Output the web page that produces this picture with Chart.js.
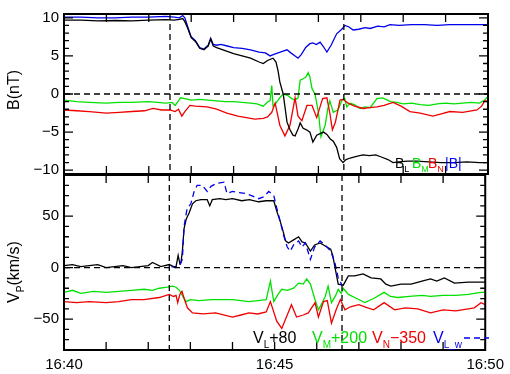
<!DOCTYPE html>
<html lang="en">
<head>
<meta charset="UTF-8">
<title>B and Vp</title>
<script src="https://cdn.jsdelivr.net/npm/chart.js"></script>
<style>
  html, body { margin: 0; padding: 0; background: #fff; }
  #wrap { position: relative; width: 510px; height: 374px; }
  #wrap canvas { position: absolute; left: 0; top: 0; }
</style>
</head>
<body>
<div id="wrap">
  <canvas id="bChart" width="510" height="374"></canvas>
  <canvas id="vChart" width="510" height="374"></canvas>
</div>
<script>
// time is minutes after 16:40
const minuteTicks = [0, 1, 2, 3, 4, 5, 6, 7, 8, 9, 10];
const timeLabels = { 0: '16:40', 5: '16:45', 10: '16:50' };
const markTimes = [2.5, 6.6];

const bMajor = [-10, -5, 0, 5, 10];
const bMinor = [-10, -9, -8, -7, -6, -5, -4, -3, -2, -1, 0, 1, 2, 3, 4, 5, 6, 7, 8, 9, 10];
const vMajor = [-50, 0, 50];
const vMinor = [-80, -70, -60, -50, -40, -30, -20, -10, 0, 10, 20, 30, 40, 50, 60, 70, 80, 90];

// top panel: B components (nT)
const tBT = [0, 0.4, 0.8, 1.2, 1.6, 2.0, 2.4, 2.6, 2.72, 2.8, 2.85, 2.92, 3.0, 3.1, 3.2, 3.3, 3.4, 3.46, 3.52, 3.6,
  3.7, 3.85, 4.0, 4.2, 4.4, 4.6, 4.75, 4.86, 4.95, 5.05, 5.15, 5.26, 5.35, 5.45, 5.52, 5.6, 5.7, 5.8, 5.87, 5.95,
  6.04, 6.12, 6.2, 6.3, 6.43, 6.55, 6.63, 6.72, 6.82, 6.95, 7.1, 7.22, 7.4, 7.55, 7.69, 7.9, 8.2, 8.5, 8.8, 9.1,
  9.4, 9.7, 10];
const bT = [10.1, 10.1, 10.0, 10.0, 10.1, 10.1, 10.2, 10.1, 10.0, 10.3, 10.0, 8.8, 7.5, 7.0, 6.1, 5.9, 6.4, 7.3, 6.5, 6.4,
  6.5, 6.3, 6.1, 6.0, 5.8, 5.5, 5.4, 5.0, 5.2, 5.4, 5.6, 5.8, 5.4, 5.0, 4.7, 5.2, 6.1, 6.6, 6.7, 6.5,
  6.8, 6.2, 5.5, 6.4, 7.9, 8.5, 9.0, 8.8, 8.4, 8.5, 8.7, 8.6, 8.9, 8.8, 9.1, 9.0, 9.1, 9.1, 9.0, 9.1,
  9.1, 9.1, 9.1];

const tBL = [0, 0.4, 0.8, 1.2, 1.6, 2.0, 2.4, 2.6, 2.72, 2.8, 2.85, 2.92, 3.0, 3.1, 3.2, 3.3, 3.4, 3.46, 3.52, 3.6,
  3.75, 3.9, 4.0, 4.2, 4.4, 4.6, 4.7, 4.8, 4.93, 5.0, 5.05, 5.09, 5.17, 5.26, 5.33, 5.4, 5.45, 5.52, 5.57, 5.64,
  5.72, 5.8, 5.87, 5.96, 6.04, 6.12, 6.2, 6.28, 6.35, 6.43, 6.5, 6.58, 6.65, 6.75, 6.9, 7.05, 7.2, 7.35, 7.5, 7.64,
  7.76, 7.9, 8.1, 8.32, 8.6, 8.9, 9.2, 9.5, 9.8, 10];
const bL = [9.7, 9.7, 9.6, 9.65, 9.6, 9.7, 9.75, 9.7, 9.8, 9.9, 9.5, 8.6, 7.4, 6.9, 6.0, 5.8, 6.3, 7.2, 6.3, 6.1,
  5.8, 5.5, 5.3, 5.0, 4.7, 4.2, 4.0, 4.4, 4.7, 4.2, 3.0, 1.6, 0.0, -3.7, -4.7, -5.4, -5.5, -4.6, -3.8, -4.5,
  -4.7, -5.0, -6.3, -5.4, -5.2, -5.0, -5.3, -5.9, -6.2, -7.0, -8.5, -9.0, -8.6, -8.4, -8.2, -8.0, -8.1, -8.0, -8.3, -8.6,
  -9.0, -8.9, -8.8, -8.8, -8.9, -9.0, -9.0, -8.9, -9.0, -9.0];

const tBM = [0, 0.3, 0.6, 1.0, 1.3, 1.6, 2.0, 2.4, 2.55, 2.62, 2.7, 2.75, 2.85, 3.0, 3.2, 3.4, 3.6, 3.8, 4.0, 4.2,
  4.4, 4.55, 4.7, 4.81, 4.86, 4.9, 4.93, 5.0, 5.05, 5.12, 5.17, 5.28, 5.37, 5.45, 5.52, 5.57, 5.64, 5.7, 5.76, 5.8,
  5.85, 5.92, 6.0, 6.06, 6.16, 6.22, 6.27, 6.35, 6.46, 6.56, 6.62, 6.67, 6.75, 6.85, 6.98, 7.1, 7.22, 7.38, 7.52, 7.7,
  7.85, 8.0, 8.2, 8.4, 8.6, 8.8, 9.0, 9.2, 9.4, 9.6, 9.8, 9.92, 10];
const bM = [-0.8, -1.0, -1.1, -1.2, -1.1, -1.1, -1.0, -1.2, -1.1, -1.5, -0.9, -0.5, -0.6, -0.8, -0.7, -0.8, -0.9, -1.0, -1.0, -1.1,
  -1.2, -1.3, -1.6, -1.0, -0.9, 1.1, -1.6, -1.2, -0.8, -0.3, 0.0, -0.2, -0.6, -0.8, -0.5, 1.8, 2.0, 2.2, 2.8, 2.2,
  0.7, 0.0, -2.4, -5.6, -4.1, -2.0, -0.9, -2.4, -2.1, -0.8, -0.6, -1.7, -1.2, -1.4, -1.9, -1.7, -1.8, -0.6, -0.5, -1.0,
  -1.1, -1.3, -1.2, -1.4, -1.5, -1.3, -1.2, -1.3, -1.2, -1.1, -1.2, -0.8, -0.3];

const tBN = [0, 0.3, 0.6, 1.0, 1.3, 1.6, 1.9, 2.1, 2.3, 2.5, 2.62, 2.7, 2.78, 2.85, 2.97, 3.1, 3.37, 3.6, 3.84, 4.1,
  4.3, 4.5, 4.7, 4.8, 4.9, 4.98, 5.09, 5.21, 5.33, 5.45, 5.52, 5.61, 5.73, 5.85, 5.96, 6.1, 6.2, 6.27, 6.33, 6.4,
  6.51, 6.58, 6.7, 6.85, 7.06, 7.2, 7.38, 7.55, 7.76, 7.95, 8.16, 8.4, 8.7, 8.9, 9.1, 9.4, 9.74, 9.85, 9.92, 10];
const bN = [-2.1, -2.2, -2.3, -2.5, -2.4, -2.3, -2.2, -1.9, -2.1, -2.1, -2.3, -2.0, -2.9, -2.3, -1.5, -1.6, -1.7, -2.0, -2.5, -2.9,
  -3.1, -3.3, -3.2, -3.0, -2.4, -1.2, -4.1, -5.5, -4.1, -0.5, -2.9, -3.5, -1.5, -1.5, -3.1, -0.6, -0.5, -2.5, -4.7, -3.7,
  -0.8, -0.7, -1.2, -1.6, -1.9, -1.8, -1.7, -1.5, -1.1, -1.6, -2.3, -2.5, -2.9, -2.6, -2.3, -2.4, -2.1, -1.6, -0.9, -0.9];

// bottom panel: proton velocity (km/s), offsets as in the legend
const tVL = [0, 0.2, 0.4, 0.6, 0.8, 1.0, 1.2, 1.4, 1.6, 1.8, 2.0, 2.1, 2.3, 2.5, 2.6, 2.66, 2.71, 2.75, 2.78, 2.81,
  2.85, 2.9, 2.97, 3.05, 3.13, 3.25, 3.4, 3.46, 3.52, 3.7, 3.84, 4.0, 4.22, 4.4, 4.62, 4.8, 4.98, 5.05, 5.14, 5.21,
  5.26, 5.33, 5.45, 5.57, 5.65, 5.73, 5.85, 5.95, 6.08, 6.2, 6.33, 6.38, 6.43, 6.51, 6.63, 6.75, 6.9, 7.1, 7.29, 7.52,
  7.64, 7.76, 8.0, 8.24, 8.5, 8.7, 8.85, 9.03, 9.27, 9.6, 10];
const vL = [2, 3, 1, 2, 3, 0, 1, 2, 0, 1, 2, 5, 1, 3, 1, 1, 12, 4, 6, 16,
  38, 47, 53, 62, 65, 66, 66, 60, 66, 67, 66, 67, 65, 66, 64, 65, 65, 55, 44, 34,
  26, 24, 27, 30, 25, 24, 16, 22, 24, 21, 18, 12, 1, -16, -17, -8, -8, -6, -10, -11,
  -16, -18, -16, -16, -13, -11, -13, -10, -15, -14, -14];

const tVW = [2.55, 2.66, 2.75, 2.81, 2.85, 2.92, 3.01, 3.09, 3.16, 3.28, 3.4, 3.49, 3.63, 3.8, 3.87, 4.0, 4.15, 4.31, 4.45, 4.62,
  4.75, 4.86, 4.98, 5.05, 5.14, 5.21, 5.3, 5.37, 5.45, 5.57, 5.65, 5.73, 5.85, 5.95, 6.08, 6.2, 6.33, 6.43, 6.51, 6.6];
const vW = [1, 0, 2, 8, 40, 57, 62, 74, 80, 80, 74, 79, 82, 83, 72, 74, 73, 72, 70, 67,
  69, 74, 70, 58, 44, 32, 20, 16, 22, 26, 20, 24, 8, 20, 26, 22, 16, 5, -10, -17];

const tVM = [0, 0.2, 0.4, 0.7, 1.0, 1.3, 1.6, 1.9, 2.1, 2.26, 2.45, 2.58, 2.66, 2.74, 2.82, 2.9, 3.0, 3.2, 3.5, 3.8,
  4.0, 4.2, 4.39, 4.6, 4.8, 4.9, 4.98, 5.08, 5.17, 5.3, 5.45, 5.57, 5.68, 5.76, 5.85, 5.95, 6.04, 6.12, 6.2, 6.27,
  6.35, 6.45, 6.51, 6.58, 6.63, 6.75, 6.95, 7.14, 7.35, 7.6, 7.75, 7.92, 8.2, 8.5, 8.7, 9.0, 9.3, 9.6, 9.9, 10];
const vM = [-24, -22, -25, -23, -24, -23, -22, -21, -22, -20, -19, -18, -19, -22, -28, -33, -31, -32, -31, -31,
  -31, -32, -33, -32, -31, -13, -33, -26, -21, -22, -20, -15, -16, -11, -16, -30, -41, -35, -28, -18,
  -34, -27, -21, -25, -20, -26, -30, -34, -30, -24, -28, -29, -28, -27, -28, -27, -27, -26, -24, -24];

const tVN = [0, 0.3, 0.6, 1.0, 1.3, 1.6, 1.9, 2.26, 2.5, 2.6, 2.66, 2.7, 2.75, 2.8, 2.86, 2.93, 3.05, 3.3, 3.6, 4.0,
  4.2, 4.39, 4.6, 4.8, 4.9, 5.05, 5.17, 5.28, 5.4, 5.52, 5.68, 5.8, 5.96, 6.04, 6.16, 6.25, 6.35, 6.46, 6.56, 6.67,
  6.8, 7.0, 7.14, 7.35, 7.6, 7.85, 8.1, 8.4, 8.7, 9.0, 9.3, 9.6, 9.74, 9.9, 10];
const vN = [-33, -34, -33, -34, -33, -31, -31, -29, -26, -28, -27, -34, -26, -23, -31, -39, -44, -45, -44, -48,
  -46, -44, -45, -43, -33, -52, -59, -48, -36, -48, -46, -44, -34, -48, -33, -32, -54, -41, -31, -41,
  -38, -36, -38, -41, -34, -41, -39, -40, -44, -41, -42, -40, -39, -34, -36];

const BLACK = '#000000', GREEN = 'rgb(0,225,0)', RED = 'rgb(240,0,0)', BLUE = 'rgb(0,0,235)';
const FONT = '"Liberation Sans", Arial, sans-serif';

const pts = (ts, vs) => ts.map((t, i) => ({ x: t, y: vs[i] }));
const minusFmt = v => (v < 0 ? '\u2212' + Math.abs(v) : String(v));

function line(data, color, dash) {
  return { data, borderColor: color, borderWidth: 1.3, borderDash: dash || [], pointRadius: 0, tension: 0, fill: false };
}

// text pieces: [string, colour, subscript?]
function rich(ctx, x, y, parts, size) {
  parts.forEach(([s, c, sub]) => {
    ctx.font = (sub ? Math.round(size * 0.65) : size) + 'px ' + FONT;
    ctx.fillStyle = c;
    ctx.fillText(s, x, y + (sub ? size * 0.3 : 0));
    x += ctx.measureText(s).width;
  });
  return x;
}
function richWidth(ctx, parts, size) {
  let w = 0;
  parts.forEach(([s, c, sub]) => {
    ctx.font = (sub ? Math.round(size * 0.65) : size) + 'px ' + FONT;
    w += ctx.measureText(s).width;
  });
  return w;
}

function makeDeco(major, minor, title, titleY, legend) {
  return {
    id: 'deco',
    afterDatasetsDraw(chart) {
      const { ctx, chartArea: a, scales } = chart;
      const xs = scales.x, ys = scales.y;
      ctx.save();
      // dashed zero line and event lines
      ctx.strokeStyle = BLACK;
      ctx.lineWidth = 1.3;
      ctx.setLineDash([6, 4]);
      ctx.beginPath();
      const y0 = ys.getPixelForValue(0);
      ctx.moveTo(a.left, y0); ctx.lineTo(a.right, y0);
      markTimes.forEach(t => {
        const px = xs.getPixelForValue(t);
        ctx.moveTo(px, a.top); ctx.lineTo(px, a.bottom);
      });
      ctx.stroke();
      ctx.setLineDash([]);
      // frame
      ctx.lineWidth = 2;
      ctx.strokeRect(a.left, a.top, a.right - a.left, a.bottom - a.top);
      // inward ticks
      ctx.lineWidth = 1.3;
      ctx.beginPath();
      minor.forEach(v => {
        const py = ys.getPixelForValue(v);
        if (py < a.top + 1 || py > a.bottom - 1) return;
        const len = major.includes(v) ? 9 : 5;
        ctx.moveTo(a.left, py); ctx.lineTo(a.left + len, py);
        ctx.moveTo(a.right, py); ctx.lineTo(a.right - len, py);
      });
      minuteTicks.forEach(t => {
        const px = xs.getPixelForValue(t);
        ctx.moveTo(px, a.top); ctx.lineTo(px, a.top + 8);
        ctx.moveTo(px, a.bottom); ctx.lineTo(px, a.bottom - 8);
      });
      ctx.stroke();
      // rotated y title
      ctx.save();
      ctx.translate(14, titleY);
      ctx.rotate(-Math.PI / 2);
      ctx.textBaseline = 'alphabetic';
      const w = richWidth(ctx, title, 16);
      rich(ctx, -w / 2, 5, title, 16);
      ctx.restore();
      legend(ctx);
      ctx.restore();
    }
  };
}

function baseOptions(yMin, yMax, yMajor, pad, showX) {
  return {
    responsive: false,
    animation: false,
    devicePixelRatio: 1,
    events: [],
    layout: { padding: pad, autoPadding: false },
    plugins: { legend: { display: false }, tooltip: { enabled: false } },
    scales: {
      x: {
        type: 'linear', min: 0, max: 10, display: showX,
        afterBuildTicks: s => { s.ticks = Object.keys(timeLabels).map(k => ({ value: +k })); },
        afterFit: s => { s.height = showX ? 24 : 0; },
        grid: { display: false, drawTicks: false },
        border: { display: false },
        ticks: { callback: v => timeLabels[v] || '', color: BLACK, padding: 6, maxRotation: 0, autoSkip: false, font: { size: 15, family: FONT } }
      },
      y: {
        min: yMin, max: yMax,
        afterBuildTicks: s => { s.ticks = yMajor.map(v => ({ value: v })); },
        afterFit: s => { s.width = 64; },
        grid: { display: false, drawTicks: false },
        border: { display: false },
        ticks: { callback: minusFmt, color: BLACK, padding: 5, font: { size: 15, family: FONT } }
      }
    }
  };
}

new Chart(document.getElementById('bChart'), {
  type: 'line',
  data: {
    datasets: [
      line(pts(tBL, bL), BLACK),
      line(pts(tBN, bN), RED),
      line(pts(tBM, bM), GREEN),
      line(pts(tBT, bT), BLUE)
    ]
  },
  options: baseOptions(-10.5, 10.5, bMajor, { top: 2, right: 22, bottom: 200, left: 0 }, false),
  plugins: [makeDeco(bMajor, bMinor, [['B(nT)', BLACK, false]], 90, ctx => {
    ctx.textBaseline = 'alphabetic';
    rich(ctx, 395, 168, [['B', BLACK, false], ['L', BLACK, true]], 14);
    rich(ctx, 412, 168, [['B', GREEN, false], ['M', GREEN, true]], 14);
    rich(ctx, 428, 168, [['B', RED, false], ['N', RED, true]], 14);
    rich(ctx, 445, 168, [['|B|', BLUE, false]], 14);
  })]
});

new Chart(document.getElementById('vChart'), {
  type: 'line',
  data: {
    datasets: [
      line(pts(tVW, vW), BLUE, [6, 4]),
      line(pts(tVL, vL), BLACK),
      line(pts(tVN, vN), RED),
      line(pts(tVM, vM), GREEN)
    ]
  },
  options: baseOptions(-80, 90, vMajor, { top: 175, right: 22, bottom: 0, left: 0 }, true),
  plugins: [makeDeco(vMajor, vMinor, [['V', BLACK, false], ['P', BLACK, true], ['(km/s)', BLACK, false]], 272, ctx => {
    ctx.textBaseline = 'alphabetic';
    rich(ctx, 253, 343, [['V', BLACK, false], ['L', BLACK, true], ['+80', BLACK, false]], 16);
    rich(ctx, 312, 343, [['V', GREEN, false], ['M', GREEN, true], ['+200', GREEN, false]], 16);
    rich(ctx, 372, 343, [['V', RED, false], ['N', RED, true], ['\u2212350', RED, false]], 16);
    const xe = rich(ctx, 433, 343, [['V', BLUE, false], ['L_w', BLUE, true]], 16);
    ctx.strokeStyle = BLUE;
    ctx.lineWidth = 1.5;
    ctx.setLineDash([6, 4]);
    ctx.beginPath();
    ctx.moveTo(xe + 2, 338); ctx.lineTo(489, 338);
    ctx.stroke();
    ctx.setLineDash([]);
  })]
});
</script>
</body>
</html>
